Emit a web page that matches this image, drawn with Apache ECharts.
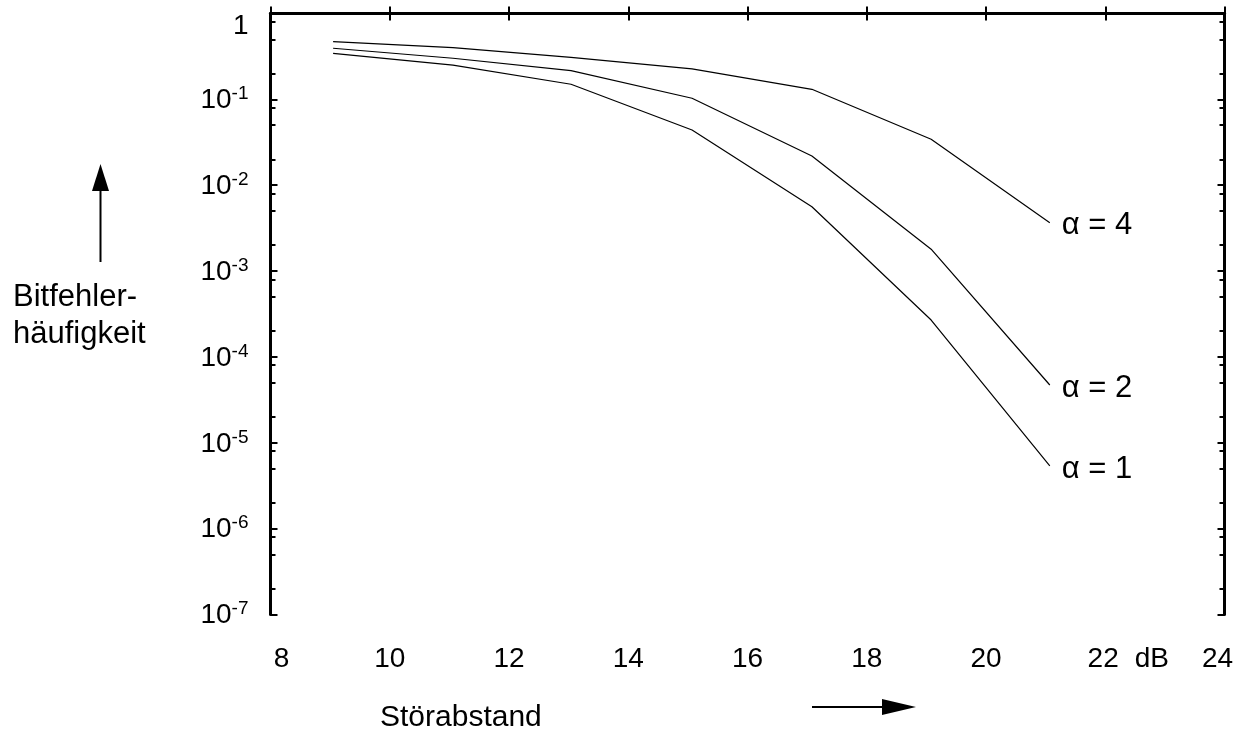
<!DOCTYPE html>
<html>
<head>
<meta charset="utf-8">
<script src="https://cdn.jsdelivr.net/npm/echarts@6/dist/echarts.min.js"></script>
<style>
html,body{margin:0;padding:0;background:#fff;}
#chart{width:1249px;height:748px;}
</style>
</head>
<body>
<div id="chart"></div>
<script>
// ---- data ----
const snrDb = [9.05, 11.06, 13.04, 15.07, 17.08, 19.08, 21.07];
const ber_alpha4 = [0.47, 0.40, 0.309, 0.226, 0.131, 0.0343, 0.00366];
const ber_alpha2 = [0.394, 0.301, 0.216, 0.103, 0.0219, 0.00180, 0.0000471];
const ber_alpha1 = [0.344, 0.251, 0.150, 0.044, 0.00562, 0.000269, 0.00000537];
const seriesNames = ['α = 4', 'α = 2', 'α = 1'];
const xTickValues = [8, 10, 12, 14, 16, 18, 20, 22, 24];
const yDecades = [0, -1, -2, -3, -4, -5, -6, -7];
const yMinorMantissas = [0.8, 0.5, 0.2];
const xAxisTitle = 'Störabstand';
const yAxisTitle = 'Bitfehler-\nhäufigkeit';
const xUnit = 'dB';

const FONT = 'Liberation Sans, Arial, sans-serif';
const pair = (ys) => snrDb.map((x, i) => [x, ys[i]]);

// minor tick positions in log10 space
const minorLog = [];
yDecades.forEach(d => {
  if (d <= -7) return;
  yMinorMantissas.forEach(m => minorLog.push(d + Math.log10(m)));
});

const chart = echarts.init(document.getElementById('chart'), null, {renderer: 'canvas'});

const axisLineStyle = {lineStyle: {color: '#000', width: 3}};
const grid = {left: 270.5, right: 24.5, top: 13.5, bottom: 133.5, containLabel: false};

function xLabelFormatter(v) {
  if (v === xTickValues[0]) return '{first|' + v + '}';
  if (v === xTickValues[xTickValues.length - 1]) return '{last|' + v + '}';
  if (v === 22) return '{pad| }{n|' + v + '}{u|' + xUnit + '}';
  return '{n|' + v + '}';
}

function yLabelFormatter(v) {
  const e = Math.round(Math.log10(v));
  if (e === 0) return '{one|1}';
  return '{b|10}{e|' + e + '}';
}

const seriesData = [ber_alpha4, ber_alpha2, ber_alpha1];

const option = {
  backgroundColor: '#fff',
  animation: false,
  grid: grid,
  xAxis: [
    {
      type: 'value', min: 8, max: 24, interval: 2, position: 'bottom',
      axisLine: axisLineStyle,
      axisTick: {inside: true, length: 7, lineStyle: {color: '#000', width: 2}},
      splitLine: {show: false},
      axisLabel: {
        color: '#000', fontFamily: FONT, fontSize: 28, margin: 31,
        formatter: xLabelFormatter,
        rich: {
          n: {fontFamily: FONT, fontSize: 28, color: '#000'},
          first: {fontFamily: FONT, fontSize: 28, color: '#000', padding: [0, 0, 0, 22]},
          last: {fontFamily: FONT, fontSize: 28, color: '#000', padding: [0, 14, 0, 0]},
          pad: {fontFamily: FONT, fontSize: 28, width: 46},
          u: {fontFamily: FONT, fontSize: 28, color: '#000', padding: [0, 0, 0, 16]}
        }
      }
    },
    {
      type: 'value', min: 8, max: 24, interval: 2, position: 'top',
      axisLine: axisLineStyle,
      axisTick: {inside: true, length: 7, lineStyle: {color: '#000', width: 2}},
      splitLine: {show: false},
      axisLabel: {show: false}
    }
  ],
  yAxis: [
    {
      type: 'log', logBase: 10, min: 1e-7, max: 1, interval: 1, position: 'left',
      axisLine: axisLineStyle,
      axisTick: {inside: true, length: 7, lineStyle: {color: '#000', width: 2}},
      splitLine: {show: false},
      minorTick: {show: false},
      axisLabel: {
        color: '#000', fontFamily: FONT, fontSize: 28, margin: 22,
        formatter: yLabelFormatter,
        rich: {
          one: {fontFamily: FONT, fontSize: 28, color: '#000', padding: [26, 0, 0, 0]},
          b: {fontFamily: FONT, fontSize: 28, color: '#000', verticalAlign: 'bottom', lineHeight: 30},
          e: {fontFamily: FONT, fontSize: 19, color: '#000', verticalAlign: 'top', lineHeight: 30, padding: [0, 0, 12, 0]}
        }
      }
    },
    {
      type: 'log', logBase: 10, min: 1e-7, max: 1, interval: 1, position: 'right',
      axisLine: axisLineStyle,
      axisTick: {inside: true, length: 7, lineStyle: {color: '#000', width: 2}},
      splitLine: {show: false},
      axisLabel: {show: false}
    },
    {
      type: 'value', min: -7, max: 0, position: 'left',
      axisLine: {show: false},
      axisTick: {inside: true, length: 5, customValues: minorLog, lineStyle: {color: '#000', width: 2}},
      splitLine: {show: false},
      axisLabel: {show: false}
    },
    {
      type: 'value', min: -7, max: 0, position: 'right',
      axisLine: {show: false},
      axisTick: {inside: true, length: 5, customValues: minorLog, lineStyle: {color: '#000', width: 2}},
      splitLine: {show: false},
      axisLabel: {show: false}
    }
  ],
  series: seriesData.map((d, i) => ({
    name: seriesNames[i],
    type: 'line',
    xAxisIndex: 0,
    yAxisIndex: 0,
    data: pair(d),
    showSymbol: false,
    lineStyle: {color: '#000', width: 1.2},
    endLabel: {
      show: true, formatter: seriesNames[i], color: '#000',
      fontFamily: FONT, fontSize: 31, distance: 12, offset: [0, 3]
    }
  })),
  graphic: [
    {type: 'text', left: 380, top: 703, style: {text: xAxisTitle, font: '30px ' + FONT, fill: '#000'}},
    {type: 'line', shape: {x1: 812, y1: 707, x2: 885, y2: 707}, style: {stroke: '#000', lineWidth: 2}},
    {type: 'polygon', shape: {points: [[882, 699], [916, 707], [882, 715]]}, style: {fill: '#000'}},
    {type: 'text', left: 13, top: 279, style: {text: yAxisTitle, font: '31px ' + FONT, fill: '#000', lineHeight: 37}},
    {type: 'line', shape: {x1: 100.5, y1: 262, x2: 100.5, y2: 188}, style: {stroke: '#000', lineWidth: 2}},
    {type: 'polygon', shape: {points: [[92, 191], [100.5, 164], [109, 191]]}, style: {fill: '#000'}}
  ]
};

chart.setOption(option);
</script>
</body>
</html>
